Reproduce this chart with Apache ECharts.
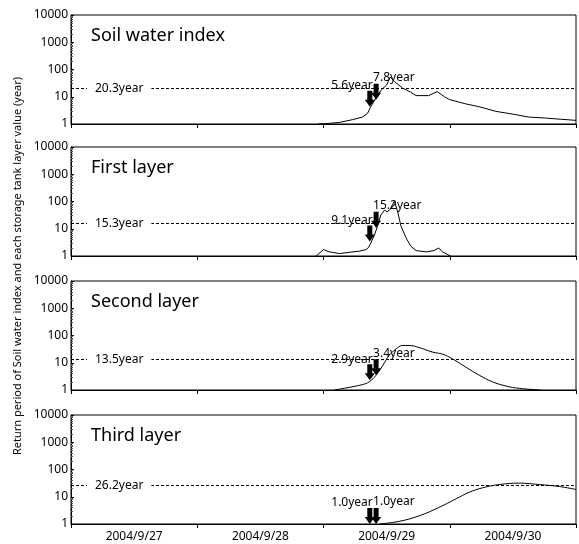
<!DOCTYPE html>
<html>
<head>
<meta charset="utf-8">
<title>Return period</title>
<script src="https://cdn.jsdelivr.net/npm/echarts@6.0.0/dist/echarts.min.js"></script>
<style>
	html, body {
		margin: 0;
		padding: 0;
		background: #fff;
	}
	#returnPeriodChart {
		width: 579px;
		height: 544px;
	}
</style>
</head>
<body>
<div id="returnPeriodChart"></div>
<script>
	// categories on the time axis
	const dayLabels = ['2004/9/27', '2004/9/28', '2004/9/29', '2004/9/30'];
	// panel names
	const panelNames = ['Soil water index', 'First layer', 'Second layer', 'Third layer'];
	// y tick labels (log axis)
	const yTicks = [1, 10, 100, 1000, 10000];

	// hours since 2004/9/27 0:00 and return period (year)
	const swiHours = [47, 49, 51, 53.5, 55.4, 56.4, 57, 58, 59, 60, 60.7, 61.5, 63, 64.5, 65.6, 68, 69.6, 71, 72, 75, 77.6, 80.8, 84, 87, 90, 93, 96];
	const swiValues = [1, 1.05, 1.14, 1.44, 1.8, 2.5, 4.4, 9, 18, 27, 53, 36, 21, 15, 11, 11, 15.5, 10, 7.8, 5.5, 4.3, 2.9, 2.3, 1.8, 1.66, 1.5, 1.36];

	const firstHours = [46.6, 48, 49.1, 51, 53, 54.8, 56.1, 56.5, 57, 57.7, 58.3, 58.9, 59.6, 60.1, 60.7, 61, 61.5, 62.1, 62.7, 63.7, 64.6, 65.6, 67.5, 69, 69.9, 70.6, 71.6, 72.2];
	const firstValues = [1, 1.72, 1.42, 1.23, 1.37, 1.5, 1.72, 2.0, 3.0, 6, 13, 32, 48, 42, 52, 69, 105, 42, 13, 4.6, 2.3, 1.58, 1.42, 1.58, 1.98, 1.42, 1.13, 1];

	const secondHours = [50.1, 52.9, 55.5, 56.7, 58, 59.3, 60.5, 61.8, 63, 64.3, 66.2, 68.7, 70.6, 72.5, 75, 77.6, 80.1, 82.7, 85.2, 89.3];
	const secondValues = [1, 1.25, 1.6, 2.0, 3.5, 8.1, 18.8, 32, 43, 43, 36, 24.7, 20.7, 14, 7, 3.5, 2, 1.4, 1.15, 1];

	const thirdHours = [58.6, 62.4, 66.2, 70, 73.2, 75.7, 78.2, 81.4, 85.2, 89, 92.8, 96];
	const thirdValues = [1, 1.25, 2.0, 4.1, 8.4, 14.6, 21.2, 28, 31.6, 28, 23.8, 18.5];

	// dashed reference return periods
	const criticalPeriods = [20.3, 15.3, 13.5, 26.2];

	// arrows: hour, tip value, label
	const arrowHours = [56.8, 58.0];
	const arrowTips = [[4.3, 7.8], [3.4, 10.8], [2.3, 3.5], [1, 1]];
	const arrowLabels = [['5.6year', '7.8year'], ['9.1year', '15.2year'], ['2.9year', '3.4year'], ['1.0year', '1.0year']];

	const seriesHours = [swiHours, firstHours, secondHours, thirdHours];
	const seriesValues = [swiValues, firstValues, secondValues, thirdValues];
	const smoothFlags = [false, false, true, true];

	const fontName = 'Noto Sans';
	const gridTops = [15, 147, 281, 415];
	const gridHeight = 109;
	const arrowPath = 'path://M2.5,0 L7.5,0 L7.5,9 L10,9 L5,16 L0,9 L2.5,9 Z';

	let grid = [];
	let xAxis = [];
	let yAxis = [];
	let series = [];
	let title = [];

	for (let i = 0; i < 4; i++) {
		grid.push({
			left: 71,
			right: 3,
			top: gridTops[i],
			height: gridHeight,
			show: true,
			borderColor: '#000',
			borderWidth: 1
		});
		// labels / ticks by day
		xAxis.push({
			type: 'category',
			gridIndex: i,
			data: dayLabels,
			boundaryGap: true,
			axisLine: { lineStyle: { color: '#000', width: 1 } },
			axisTick: { show: true, length: 4, lineStyle: { color: '#000' } },
			axisLabel: {
				show: i === 3,
				color: '#000',
				fontSize: 12,
				fontFamily: fontName,
				margin: 7
			},
			splitLine: { show: false }
		});
		// hours for the data
		xAxis.push({
			type: 'value',
			gridIndex: i,
			min: 0,
			max: 96,
			show: false
		});
		yAxis.push({
			type: 'log',
			gridIndex: i,
			logBase: 10,
			min: yTicks[0],
			max: yTicks[yTicks.length - 1],
			axisLine: { show: true, lineStyle: { color: '#000' } },
			axisTick: { show: true, inside: true, length: 3, lineStyle: { color: '#000' } },
			minorTick: { show: true, splitNumber: 9, length: 2, lineStyle: { color: '#555' } },
			axisLabel: {
				color: '#000',
				fontSize: 12,
				fontFamily: fontName,
				margin: 3,
				formatter: function(v) {
					return String(Math.round(v));
				}
			},
			splitLine: { show: false }
		});
		title.push({
			text: panelNames[i],
			left: 91,
			top: gridTops[i] + 12,
			padding: 0,
			textStyle: {
				color: '#000',
				fontSize: 18,
				fontWeight: 'normal',
				fontFamily: fontName
			}
		});

		let points = seriesHours[i].map((h, k) => [h, seriesValues[i][k]]);
		let marks = arrowHours.map((h, k) => {
			return {
				name: arrowLabels[i][k],
				coord: [h, arrowTips[i][k]],
				label: {
					align: k === 0 ? 'right' : 'left',
					offset: k === 0 ? [3, 2] : [-3, 1]
				}
			};
		});
		series.push({
			name: panelNames[i],
			type: 'line',
			xAxisIndex: i * 2 + 1,
			yAxisIndex: i,
			data: points,
			smooth: smoothFlags[i] ? 0.4 : false,
			showSymbol: false,
			symbol: 'none',
			lineStyle: { color: '#000', width: 1 },
			silent: true,
			markLine: {
				silent: true,
				symbol: 'none',
				lineStyle: { color: '#000', width: 1, type: [3, 2] },
				label: {
					show: true,
					position: 'insideStart',
					distance: [16, 0],
					formatter: criticalPeriods[i] + 'year',
					color: '#000',
					fontSize: 12,
					fontFamily: fontName,
					backgroundColor: '#fff',
					padding: [0, 8, 0, 8]
				},
				data: [{ yAxis: criticalPeriods[i] }]
			},
			markPoint: {
				silent: true,
				symbol: arrowPath,
				symbolSize: [10, 16],
				symbolKeepAspect: false,
				symbolOffset: [0, '-50%'],
				itemStyle: { color: '#000' },
				label: {
					show: true,
					position: 'top',
					distance: 1,
					formatter: '{b}',
					color: '#000',
					fontSize: 12,
					fontFamily: fontName
				},
				data: marks
			}
		});
	}

	let myChart = echarts.init(document.getElementById('returnPeriodChart'));
	const option = {
		backgroundColor: '#fff',
		animation: false,
		title: title,
		grid: grid,
		xAxis: xAxis,
		yAxis: yAxis,
		series: series,
		graphic: [{
			type: 'text',
			x: 18,
			y: 266,
			rotation: Math.PI / 2,
			style: {
				text: 'Return period of Soil water index and each storage tank layer value (year)',
				fill: '#000',
				font: '11px "Noto Sans"',
				textAlign: 'center',
				textVerticalAlign: 'middle'
			}
		}]
	};
	myChart.setOption(option);
</script>
</body>
</html>
